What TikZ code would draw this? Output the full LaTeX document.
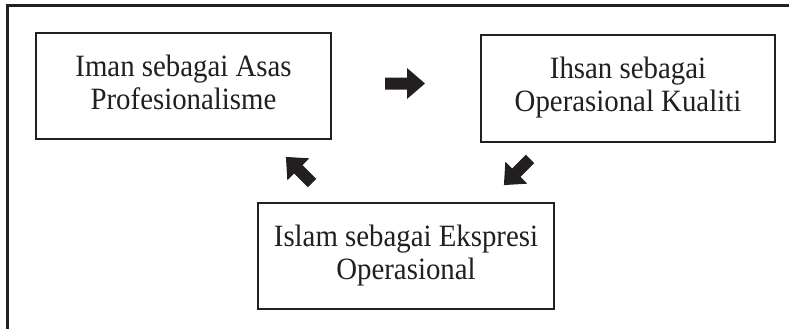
\documentclass[tikz,border=0pt]{standalone}
\usepackage{fontspec}
\setmainfont{Liberation Serif}[FakeStretch=0.93]
\definecolor{ink}{HTML}{231F20}
\begin{document}
\begin{tikzpicture}[x=1pt,y=-1pt,
  textbox/.style={draw=ink,line width=2.6pt,fill=white,align=center,inner sep=0pt,
    font=\fontsize{31}{33}\selectfont,text=ink},
  fatarrow/.style={fill=ink,draw=none}]
\useasboundingbox (0,0) rectangle (789,329);
% outer frame (top and left only)
\coordinate (fr) at (789,5.5);
\coordinate (fc) at (7.5,5.5);
\coordinate (fb) at (7.5,329);
\draw[ink,line width=2.4pt] (fr) -- (fc) -- (fb);
% boxes
\node[textbox,minimum width=295pt,minimum height=106pt] (iman) at (183.5,86)
  {\strut Iman sebagai Asas\\\strut Profesionalisme};
\node[textbox,minimum width=294pt,minimum height=107pt] (ihsan) at (628,88.5)
  {\strut Ihsan sebagai\\\strut Operasional Kualiti};
\node[textbox,minimum width=296pt,minimum height=106pt] (islam) at (406,256)
  {\strut Islam sebagai Ekspresi\\\strut Operasional};
% arrows
\begin{scope}[shift={(405,83.5)}]
  \fill[fatarrow] (-20,-6) -- (2,-6) -- (2,-15.5) -- (20,0) -- (2,15.5) -- (2,6) -- (-20,6) -- cycle;
\end{scope}
\begin{scope}[shift={(517,172)},rotate=225]
  \fill[fatarrow] (-18.5,-6) -- (1,-6) -- (1,-15.5) -- (18.5,0) -- (1,15.5) -- (1,6) -- (-18.5,6) -- cycle;
\end{scope}
\begin{scope}[shift={(299,170)},rotate=135]
  \fill[fatarrow] (-18.5,-6) -- (1,-6) -- (1,-15.5) -- (18.5,0) -- (1,15.5) -- (1,6) -- (-18.5,6) -- cycle;
\end{scope}
\end{tikzpicture}
\end{document}
